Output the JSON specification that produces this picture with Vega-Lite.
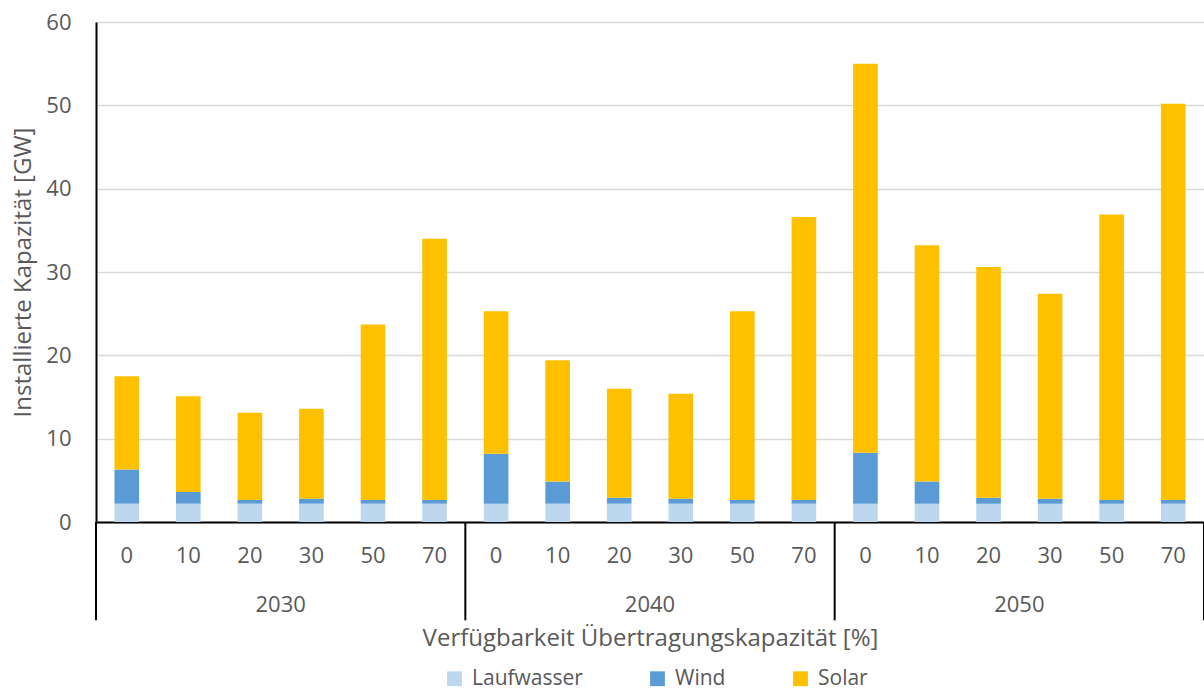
{
  "$schema": "https://vega.github.io/schema/vega-lite/v6.json",
  "width": 1108,
  "height": 500,
  "autosize": "none",
  "padding": {"left": 96, "top": 22, "right": 0, "bottom": 169},
  "background": "white",
  "config": {
    "font": "Open Sans",
    "view": {"stroke": null}
  },
  "datasets": {
    "bars": [
      {"key": "2030|0", "type": "Laufwasser", "value": 2.2},
      {"key": "2030|0", "type": "Wind", "value": 4.1},
      {"key": "2030|0", "type": "Solar", "value": 11.2},
      {"key": "2030|10", "type": "Laufwasser", "value": 2.2},
      {"key": "2030|10", "type": "Wind", "value": 1.4},
      {"key": "2030|10", "type": "Solar", "value": 11.5},
      {"key": "2030|20", "type": "Laufwasser", "value": 2.2},
      {"key": "2030|20", "type": "Wind", "value": 0.45},
      {"key": "2030|20", "type": "Solar", "value": 10.45},
      {"key": "2030|30", "type": "Laufwasser", "value": 2.2},
      {"key": "2030|30", "type": "Wind", "value": 0.6},
      {"key": "2030|30", "type": "Solar", "value": 10.8},
      {"key": "2030|50", "type": "Laufwasser", "value": 2.2},
      {"key": "2030|50", "type": "Wind", "value": 0.45},
      {"key": "2030|50", "type": "Solar", "value": 21.05},
      {"key": "2030|70", "type": "Laufwasser", "value": 2.2},
      {"key": "2030|70", "type": "Wind", "value": 0.45},
      {"key": "2030|70", "type": "Solar", "value": 31.35},
      {"key": "2040|0", "type": "Laufwasser", "value": 2.2},
      {"key": "2040|0", "type": "Wind", "value": 6.0},
      {"key": "2040|0", "type": "Solar", "value": 17.1},
      {"key": "2040|10", "type": "Laufwasser", "value": 2.2},
      {"key": "2040|10", "type": "Wind", "value": 2.65},
      {"key": "2040|10", "type": "Solar", "value": 14.55},
      {"key": "2040|20", "type": "Laufwasser", "value": 2.2},
      {"key": "2040|20", "type": "Wind", "value": 0.7},
      {"key": "2040|20", "type": "Solar", "value": 13.1},
      {"key": "2040|30", "type": "Laufwasser", "value": 2.2},
      {"key": "2040|30", "type": "Wind", "value": 0.6},
      {"key": "2040|30", "type": "Solar", "value": 12.6},
      {"key": "2040|50", "type": "Laufwasser", "value": 2.2},
      {"key": "2040|50", "type": "Wind", "value": 0.45},
      {"key": "2040|50", "type": "Solar", "value": 22.65},
      {"key": "2040|70", "type": "Laufwasser", "value": 2.2},
      {"key": "2040|70", "type": "Wind", "value": 0.45},
      {"key": "2040|70", "type": "Solar", "value": 33.95},
      {"key": "2050|0", "type": "Laufwasser", "value": 2.2},
      {"key": "2050|0", "type": "Wind", "value": 6.1},
      {"key": "2050|0", "type": "Solar", "value": 46.7},
      {"key": "2050|10", "type": "Laufwasser", "value": 2.2},
      {"key": "2050|10", "type": "Wind", "value": 2.65},
      {"key": "2050|10", "type": "Solar", "value": 28.35},
      {"key": "2050|20", "type": "Laufwasser", "value": 2.2},
      {"key": "2050|20", "type": "Wind", "value": 0.7},
      {"key": "2050|20", "type": "Solar", "value": 27.7},
      {"key": "2050|30", "type": "Laufwasser", "value": 2.2},
      {"key": "2050|30", "type": "Wind", "value": 0.6},
      {"key": "2050|30", "type": "Solar", "value": 24.6},
      {"key": "2050|50", "type": "Laufwasser", "value": 2.2},
      {"key": "2050|50", "type": "Wind", "value": 0.45},
      {"key": "2050|50", "type": "Solar", "value": 34.25},
      {"key": "2050|70", "type": "Laufwasser", "value": 2.2},
      {"key": "2050|70", "type": "Wind", "value": 0.45},
      {"key": "2050|70", "type": "Solar", "value": 47.55}
    ],
    "years": [
      {"key": "2030|30", "year": "2030", "pos": -10},
      {"key": "2040|30", "year": "2040", "pos": -10},
      {"key": "2050|30", "year": "2050", "pos": -10}
    ],
    "bounds": [
      {"key": "2030|0", "top": 0, "bottom": -11.8},
      {"key": "2040|0", "top": 0, "bottom": -11.8},
      {"key": "2050|0", "top": 0, "bottom": -11.8}
    ],
    "rightBound": [
      {"key": "2050|70", "top": 0, "bottom": -11.8}
    ]
  },
  "layer": [
    {
      "data": {"name": "bars"},
      "transform": [
        {"calculate": "indexof(['Laufwasser', 'Wind', 'Solar'], datum.type)", "as": "stackIndex"}
      ],
      "mark": {"type": "bar", "width": {"band": 0.4}},
      "encoding": {
        "x": {
          "field": "key",
          "type": "nominal",
          "scale": {
            "domain": ["2030|0","2030|10","2030|20","2030|30","2030|50","2030|70","2040|0","2040|10","2040|20","2040|30","2040|50","2040|70","2050|0","2050|10","2050|20","2050|30","2050|50","2050|70"],
            "paddingInner": 0,
            "paddingOuter": 0
          },
          "axis": {
            "title": "Verfügbarkeit Übertragungskapazität [%]",
            "labelExpr": "split(datum.value, '|')[1]",
            "labelAngle": 0,
            "labelBaseline": "middle",
            "labelPadding": 33,
            "labelFontSize": 22,
            "labelColor": "#595959",
            "ticks": false,
            "domainColor": "#000000",
            "domainWidth": 2,
            "titleFontSize": 24,
            "titleFontWeight": "normal",
            "titleColor": "#595959",
            "titleY": 116,
            "titleBaseline": "middle"
          }
        },
        "y": {
          "field": "value",
          "type": "quantitative",
          "stack": "zero",
          "scale": {"domain": [0, 60], "nice": false},
          "axis": {
            "title": "Installierte Kapazität [GW]",
            "values": [0, 10, 20, 30, 40, 50, 60],
            "ticks": false,
            "labelPadding": 25,
            "labelFontSize": 22,
            "labelColor": "#595959",
            "domainColor": "#000000",
            "domainWidth": 2,
            "gridColor": "#d9d9d9",
            "gridWidth": 1.5,
            "titleFontSize": 24,
            "titleFontWeight": "normal",
            "titleColor": "#595959",
            "titlePadding": 10
          }
        },
        "order": {"field": "stackIndex", "type": "quantitative", "sort": "ascending"},
        "color": {
          "field": "type",
          "type": "nominal",
          "sort": ["Laufwasser", "Wind", "Solar"],
          "scale": {
            "domain": ["Laufwasser", "Wind", "Solar"],
            "range": ["#bdd7ee", "#5b9bd5", "#ffc000"]
          },
          "legend": {
            "title": null,
            "orient": "none",
            "direction": "horizontal",
            "legendX": 348,
            "legendY": 646,
            "symbolType": "square",
            "symbolSize": 220,
            "symbolStrokeWidth": 0,
            "labelFontSize": 21,
            "labelColor": "#595959",
            "columnPadding": 64,
            "labelOffset": 7
          }
        }
      }
    },
    {
      "data": {"name": "years"},
      "mark": {"type": "text", "fontSize": 22, "color": "#595959", "baseline": "middle", "align": "center"},
      "encoding": {
        "x": {"field": "key", "type": "nominal", "bandPosition": 0},
        "y": {"field": "pos", "type": "quantitative"},
        "text": {"field": "year"}
      }
    },
    {
      "data": {"name": "bounds"},
      "mark": {"type": "rule", "color": "#000000", "strokeWidth": 2},
      "encoding": {
        "x": {"field": "key", "type": "nominal", "bandPosition": 0},
        "y": {"field": "top", "type": "quantitative"},
        "y2": {"field": "bottom"}
      }
    },
    {
      "data": {"name": "rightBound"},
      "mark": {"type": "rule", "color": "#000000", "strokeWidth": 2},
      "encoding": {
        "x": {"field": "key", "type": "nominal", "bandPosition": 1},
        "y": {"field": "top", "type": "quantitative"},
        "y2": {"field": "bottom"}
      }
    }
  ]
}
